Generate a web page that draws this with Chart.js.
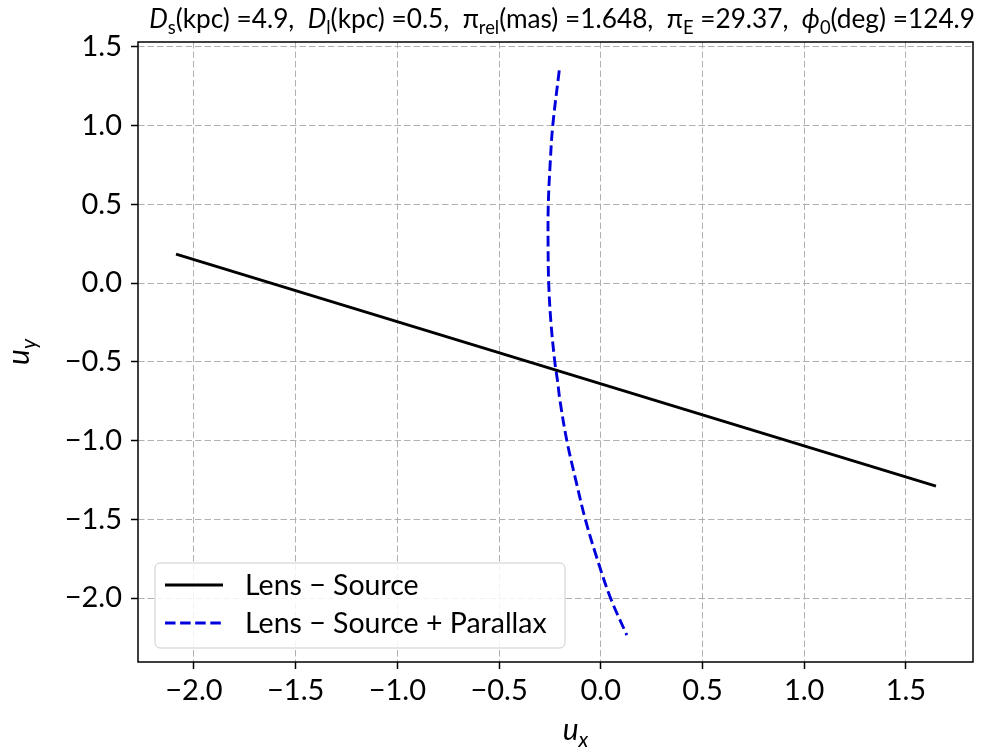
<!DOCTYPE html>
<html><head><meta charset="utf-8">
<script src="https://cdn.jsdelivr.net/npm/chart.js@4/dist/chart.umd.min.js"></script>
<style>html,body{margin:0;padding:0;background:#fff}#wrap{width:994px;height:752px}</style>
</head><body><div id="wrap"><canvas id="c" width="994" height="752"></canvas></div>
<script>
// ---- data ----
const lensX = [-2.088, 1.648];
const lensY = [0.183, -1.289];
const parallaxX = [-0.204, -0.236, -0.249, -0.258, -0.259, -0.256, -0.245, -0.226, -0.213, -0.200, -0.167, -0.123, -0.076, -0.018, 0.048, 0.128];
const parallaxY = [1.35, 1.0, 0.75, 0.5, 0.25, 0.0, -0.25, -0.5, -0.617, -0.75, -1.0, -1.25, -1.5, -1.75, -2.0, -2.235];
const xTickValues = [-2.0, -1.5, -1.0, -0.5, 0.0, 0.5, 1.0, 1.5];
const yTickValues = [1.5, 1.0, 0.5, 0.0, -0.5, -1.0, -1.5, -2.0];
const seriesLabels = ['Lens \u2212 Source', 'Lens \u2212 Source + Parallax'];
const xRange = [-2.275, 1.83];
const yRange = [-2.406, 1.53];
// title pieces: [text, kind] kind: n=normal, i=italic, s=subscript
const titleParts = [
  ['D','i'],['s','s'],['(kpc) =4.9,  ','n'],
  ['D','i'],['l','s'],['(kpc) =0.5,  ','n'],
  ['\u03c0','n'],['rel','s'],['(mas) =1.648,  ','n'],
  ['\u03c0','n'],['E','s'],[' =29.37,  ','n'],
  ['\u03d5','i'],['0','s'],['(deg) =124.9','n']
];
const xTitleParts = [['u','i'],['x','is']];
const yTitleParts = [['u','i'],['y','is']];

const FONT = 'Lato';
const fmt = v => (v < 0 ? '\u2212' : '') + Math.abs(v).toFixed(1);

function partFont(kind, size) {
  const sub = kind.includes('s');
  const it = kind.includes('i');
  const s = sub ? size * 0.7 : size;
  return { font: (it ? 'italic ' : '') + s + 'px ' + FONT, dy: sub ? size * 0.22 : 0 };
}
function richWidth(ctx, parts, size) {
  let w = 0;
  for (const [t, k] of parts) { ctx.font = partFont(k, size).font; w += ctx.measureText(t).width; }
  return w;
}
function drawRich(ctx, parts, x, y, size) {
  for (const [t, k] of parts) {
    const f = partFont(k, size);
    ctx.font = f.font;
    ctx.fillText(t, x, y + f.dy);
    x += ctx.measureText(t).width;
  }
}

const decor = {
  id: 'decor',
  afterDraw(chart) {
    const ctx = chart.ctx, a = chart.chartArea;
    ctx.save();
    // frame
    ctx.strokeStyle = '#000'; ctx.lineWidth = 1.5; ctx.setLineDash([]);
    ctx.strokeRect(a.left, a.top, a.right - a.left, a.bottom - a.top);
    ctx.fillStyle = '#000';
    ctx.textBaseline = 'alphabetic';
    // title
    let ts = 21;
    const targetW = 826;
    ts = ts * targetW / richWidth(ctx, titleParts, ts);
    const tw = richWidth(ctx, titleParts, ts);
    drawRich(ctx, titleParts, 975 - tw, 28, ts);
    // x title
    const xs = 30;
    const xw = richWidth(ctx, xTitleParts, xs);
    drawRich(ctx, xTitleParts, (a.left + a.right) / 2 - xw / 2 + 20, 740, xs);
    // y title
    ctx.save();
    ctx.translate(29, (a.top + a.bottom) / 2);
    ctx.rotate(-Math.PI / 2);
    const yw = richWidth(ctx, yTitleParts, xs);
    drawRich(ctx, yTitleParts, -yw / 2, 0, xs);
    ctx.restore();
    // legend
    const lx = a.left + 17, ly = a.bottom - 99, lw = 410, lh = 85, r = 5;
    ctx.beginPath();
    ctx.roundRect(lx, ly, lw, lh, r);
    ctx.fillStyle = 'rgba(255,255,255,0.85)';
    ctx.fill();
    ctx.strokeStyle = '#cccccc'; ctx.lineWidth = 1;
    ctx.stroke();
    const ds = chart.data.datasets;
    const rows = [ly + 22, ly + 60];
    ds.forEach((d, i) => {
      ctx.strokeStyle = d.borderColor; ctx.lineWidth = d.borderWidth;
      ctx.setLineDash(d.borderDash || []);
      ctx.beginPath(); ctx.moveTo(lx + 10, rows[i]); ctx.lineTo(lx + 68, rows[i]); ctx.stroke();
      ctx.setLineDash([]);
      ctx.fillStyle = '#000';
      ctx.font = '28.5px ' + FONT;
      ctx.textBaseline = 'middle';
      ctx.fillText(d.label, lx + 90, rows[i] + 1);
    });
    ctx.restore();
  }
};

const gridCommon = {
  color: '#b0b0b0', lineWidth: 1,
  drawTicks: true, tickLength: 7, tickColor: '#000', tickWidth: 1.5, tickBorderDash: []
};

new Chart(document.getElementById('c'), {
  type: 'scatter',
  data: {
    datasets: [
      {
        label: seriesLabels[0],
        data: lensX.map((x, i) => ({ x, y: lensY[i] })),
        showLine: true, borderColor: '#000000', borderWidth: 2.9,
        pointRadius: 0, fill: false, tension: 0
      },
      {
        label: seriesLabels[1],
        data: parallaxX.map((x, i) => ({ x, y: parallaxY[i] })),
        showLine: true, borderColor: '#0000dd', borderWidth: 2.9, borderDash: [10.5, 4.6],
        pointRadius: 0, fill: false, tension: 0.35
      }
    ]
  },
  options: {
    responsive: false, animation: false, devicePixelRatio: 1,
    layout: { padding: { left: 0, right: 21, top: 42, bottom: 0 } },
    plugins: { legend: { display: false }, title: { display: false }, tooltip: { enabled: false } },
    scales: {
      x: {
        type: 'linear', min: xRange[0], max: xRange[1],
        afterBuildTicks: s => { s.ticks = xTickValues.map(v => ({ value: v })); },
        afterFit: s => { s.height = 90; },
        ticks: { callback: fmt, color: '#000', font: { family: FONT, size: 29 }, padding: 4, maxRotation: 0, autoSkip: false },
        grid: gridCommon,
        border: { display: false, dash: [6.5, 3] }
      },
      y: {
        type: 'linear', min: yRange[0], max: yRange[1],
        afterBuildTicks: s => { s.ticks = yTickValues.map(v => ({ value: v })); },
        afterFit: s => { s.width = 138; },
        ticks: { callback: fmt, color: '#000', font: { family: FONT, size: 29 }, padding: 9, autoSkip: false },
        grid: gridCommon,
        border: { display: false, dash: [6.5, 3] }
      }
    }
  },
  plugins: [decor]
});
</script></body></html>
